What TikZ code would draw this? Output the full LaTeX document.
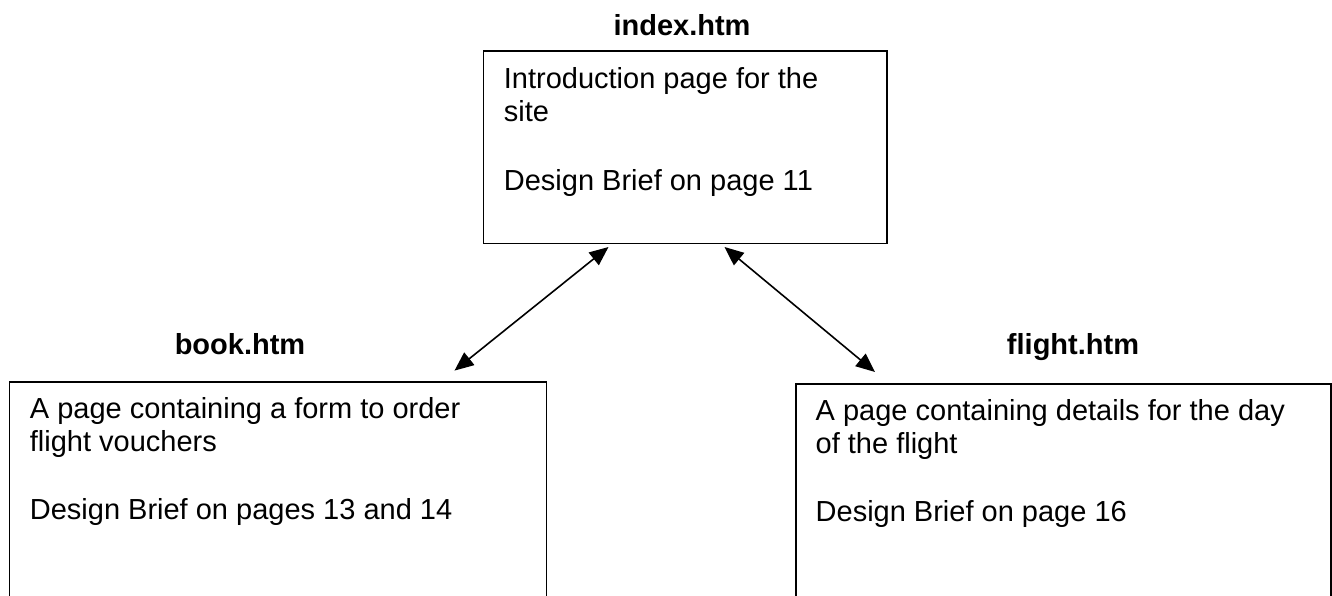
\documentclass[tikz,border=0pt]{standalone}
\usepackage{fontspec}
\setmainfont{Liberation Sans}
\usetikzlibrary{arrows.meta}
\begin{document}
\begin{tikzpicture}[x=1pt,y=-1pt,
  box/.style={draw, line width=1.8pt, inner sep=0pt, anchor=north west},
  pagetitle/.style={font=\fontsize{29}{33}\selectfont\bfseries, anchor=base, inner sep=0pt},
  body/.style={font=\fontsize{29}{33}\selectfont, anchor=base west, inner sep=0pt},
  link/.style={line width=1.6pt,
    {Triangle[length=19pt,width=16pt]}-{Triangle[length=19pt,width=16pt]}}]
  \useasboundingbox (0,0) rectangle (1332,596);
  \clip (0,0) rectangle (1332,596);

  % page boxes (the two lower ones run off the bottom edge)
  \node[box, minimum width=403.5pt, minimum height=192.7pt] (index) at (482.5,49.8) {};
  \node[box, minimum width=537pt, minimum height=240pt] (book) at (8.5,381) {};
  \node[box, minimum width=535pt, minimum height=240pt] (flight) at (795,383) {};

  % file names
  \node[pagetitle] (indexname) at (682,36) {index.htm};
  \node[pagetitle] (bookname) at (240,354) {book.htm};
  \node[pagetitle] (flightname) at (1073,354) {flight.htm};

  % index.htm description
  \node[body] (idx1) at (503.7,88.2) {Introduction page for the};
  \node[body] (idx2) at (503.7,121.6) {site};
  \node[body] (idx3) at (503.7,190) {Design Brief on page 11};

  % book.htm description
  \node[body] (bk1) at (29.7,418) {A page containing a form to order};
  \node[body] (bk2) at (29.7,451.4) {flight vouchers};
  \node[body] (bk3) at (29.7,519) {Design Brief on pages 13 and 14};

  % flight.htm description
  \node[body] (fl1) at (815.5,420) {A page containing details for the day};
  \node[body] (fl2) at (815.5,453.4) {of the flight};
  \node[body] (fl3) at (815.5,521) {Design Brief on page 16};

  % links between the pages
  \draw[link] ([shift={(126,2.7)}]index.south west) -- ([shift={(446,-10.4)}]book.north west);
  \draw[link] ([shift={(242,2.7)}]index.south west) -- ([shift={(80,-11)}]flight.north west);
\end{tikzpicture}
\end{document}
